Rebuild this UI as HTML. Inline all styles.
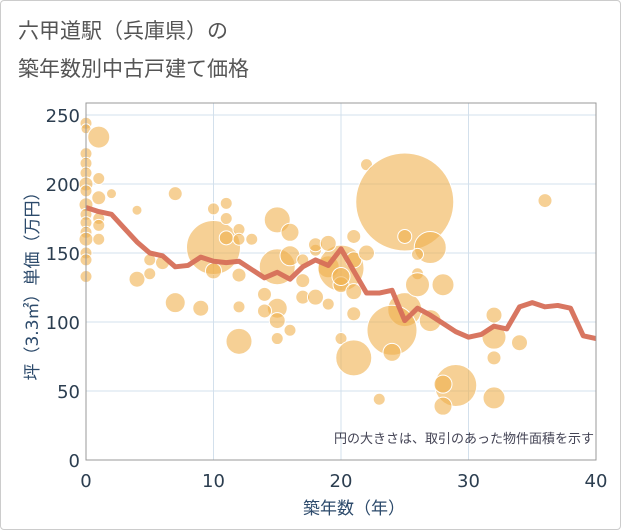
<!DOCTYPE html>
<html><head><meta charset="utf-8"><style>
body{margin:0;background:#fff;font-family:"Liberation Sans","Noto Sans CJK JP",sans-serif;}
#card{position:absolute;left:0;top:0;width:619px;height:528px;border:1px solid #ccc;border-radius:4px;background:#fff;}
</style></head><body>
<div id="card">
<svg id="chart" width="621" height="530" style="position:absolute;left:-1px;top:-1px">
<text x="18" y="38" font-size="21" fill="#555" font-family="DejaVu Sans, Noto Sans CJK JP, sans-serif">六甲道駅（兵庫県）の</text>
<text x="18" y="76" font-size="21" fill="#555" font-family="DejaVu Sans, Noto Sans CJK JP, sans-serif">築年数別中古戸建て価格</text>
<g id="grid"></g><g id="bubbles"></g><g id="line"></g><g id="axes"></g>
<text x="594" y="443" font-size="13" fill="#445" text-anchor="end" font-family="DejaVu Sans, Noto Sans CJK JP, sans-serif">円の大きさは、取引のあった物件面積を示す</text>
<text x="354" y="514" font-size="17" fill="#2c4a6b" text-anchor="middle" font-family="DejaVu Sans, Noto Sans CJK JP, sans-serif">築年数（年）</text>
<text transform="translate(38,282) rotate(-90)" font-size="17" fill="#2c4a6b" text-anchor="middle" font-family="DejaVu Sans, Noto Sans CJK JP, sans-serif">坪（3.3㎡）単価（万円）</text>
</svg></div>
<script>
const xTicks=[0,10,20,30,40];
const yTicks=[0,50,100,150,200,250];
const lineYears=[0,1,2,3,4,5,6,7,8,9,10,11,12,13,14,15,16,17,18,19,20,21,22,23,24,25,26,27,28,29,30,31,32,33,34,35,36,37,38,39,40];
const linePrices=[183,180,178,168,158,150,148,140,141,147,144,143,144,138,132,136,131,140,145,141,153,137,121,121,123,101,110,105,99,93,89,91,97,95,111,114,111,112,110,90,88];
const bubbleX=[0,0,0,0,0,0,0,0,0,0,0,0,0,0,0,1,1,1,1,1,1,2,4,4,5,5,6,7,7,9,10,10,10,11,11,11,12,12,12,12,13,12,15,16,15,16,14,15,15,15,16,17,17,18,18,19,19,18,20,20,21,21,22,25,25,27,26,26,20,21,25,24,24,28,26,27,21,20,23,29,28,28,32,32,32,34,32,36,17,19,21,22,14];
const bubbleY=[244,240,222,215,208,200,195,185,178,172,165,160,150,145,133,234,204,190,175,170,160,193,181,131,145,135,143,193,114,110,182,154,137,186,175,161,167,160,111,134,160,86,174,165,140,148,120,110,101,88,94,118,145,152,156,140,113,118,139,127,162,122,214,187,162,154,149,135,88,74,109,94,78,127,127,101,106,133,44,54,55,39,105,89,74,85,45,188,130,157,145,150,108];
const bubbleR=[6,5,6,6,6,7,6,7,6,6,6,7,6,6,6,11,6,7,6,6,6,5,5,8,6,6,7,7,10,8,6,27,8,6,6,7,6,6,6,7,6,13,13,9,18,10,7,10,8,6,6,7,6,6,7,11,6,8,23,8,7,8,6,49,7,16,6,6,6,18,17,25,9,11,12,11,7,9,6,21,9,9,8,12,7,8,11,7,7,8,8,8,7];
const NS='http://www.w3.org/2000/svg';
const L=86,R=596,T=103,B=460;
const sx=v=>L+(v-0)/(40-0)*(R-L);
const sy=v=>B-(v/258.7)*(B-T);
function mk(t,a,p){const e=document.createElementNS(NS,t);for(const k in a)e.setAttribute(k,a[k]);p.appendChild(e);return e;}
const grid=document.getElementById('grid'),axes=document.getElementById('axes');
xTicks.forEach(v=>{
 const g=mk('line',{x1:sx(v),x2:sx(v),y1:T,y2:B,stroke:'#d3e0ec','stroke-width':1},grid);
 
 
 const t=mk('text',{x:sx(v),y:B+27,'font-size':18,fill:'#2c3e50','text-anchor':'middle','font-family':'DejaVu Sans, sans-serif'},axes);
 t.textContent=v;
 
 
});
yTicks.forEach(v=>{
 const g=mk('line',{x1:L,x2:R,y1:sy(v),y2:sy(v),stroke:'#d3e0ec','stroke-width':1},grid);
 
 
 const t=mk('text',{x:L-6,y:sy(v)+7,'font-size':18,fill:'#2c3e50','text-anchor':'end','font-family':'DejaVu Sans, sans-serif'},axes);
 t.textContent=v;
 
 
});
const frame=mk('rect',{x:L,y:T,width:R-L,height:B-T,fill:'none',stroke:'#999','stroke-width':1},axes);


const bg=document.getElementById('bubbles');
bubbleX.forEach((x,i)=>{
 const c=mk('circle',{cx:sx(x),cy:sy(bubbleY[i]),r:bubbleR[i],fill:'#f0b04e','fill-opacity':0.6,stroke:'#fff','stroke-width':1},bg);
 
 
});
const pts=lineYears.map((y,i)=>sx(y)+','+sy(linePrices[i])).join(' ');
const pl=mk('polyline',{points:pts,fill:'none',stroke:'#d66f58','stroke-width':5,'stroke-linejoin':'round','stroke-opacity':0.95},document.getElementById('line'));


</script>
</body></html>
